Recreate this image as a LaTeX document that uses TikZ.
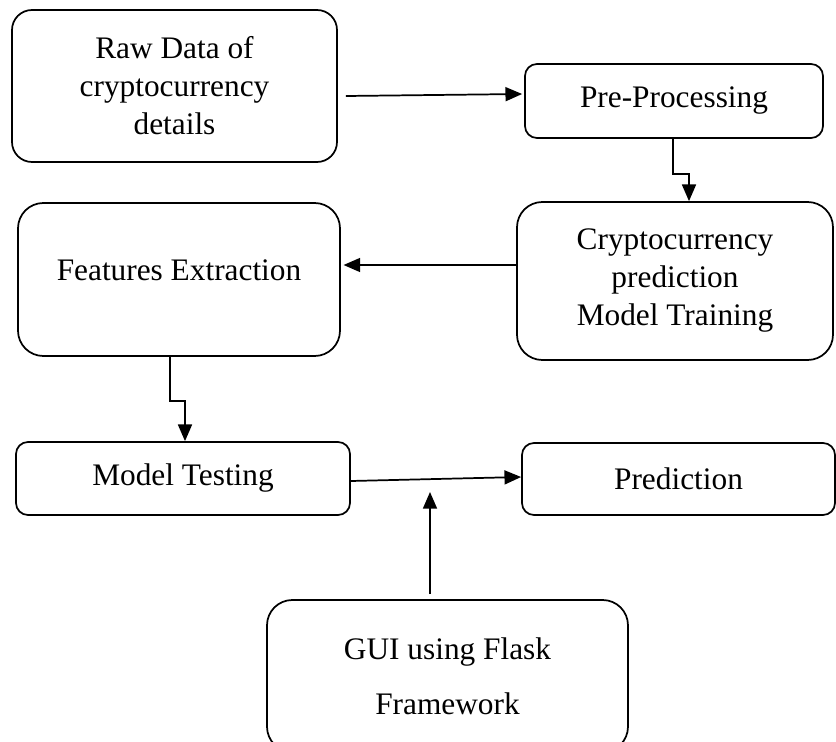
\documentclass[tikz,border=0pt]{standalone}
\usepackage{fontspec}
\setmainfont{Liberation Serif}
\usetikzlibrary{arrows.meta}
\tikzset{
    %Define standard arrow tip
    >={Triangle[length=12.5pt,width=10.5pt]},
    %Define style for boxes
    blokk/.style={
           rectangle,
           rounded corners=18pt,
           draw=black, line width=1.3pt,
           align=center,
           inner sep=0pt,
           font=\fontsize{23.5}{28.5}\selectfont},
    % Define arrow style
    pil/.style={
           ->,
           line width=1.3pt}
}
\begin{document}
\begin{tikzpicture}[x=0.75pt,y=-0.75pt]
\useasboundingbox (0,0) rectangle (836,742);
 %nodes
\node[blokk, minimum width=243.75pt, minimum height=114pt, rounded corners=15pt] (raw) at (174.5,86)
  {Raw Data of\\cryptocurrency\\details};
\node[blokk, minimum width=223.5pt, minimum height=55.5pt, rounded corners=9pt] (pre) at (674,101)
  {Pre-Processing};
\node[blokk, minimum width=237pt, minimum height=118.5pt, rounded corners=19pt] (train) at (675,281)
  {Cryptocurrency\\prediction\\Model Training};
\node[blokk, minimum width=241.5pt, minimum height=114.75pt, rounded corners=19pt, text depth=14pt] (feat) at (179,279.5)
  {Features Extraction};
\node[blokk, minimum width=250.5pt, minimum height=54.75pt, rounded corners=9pt] (test) at (183,478.5)
  {Model Testing};
\node[blokk, minimum width=234.75pt, minimum height=54pt, rounded corners=9pt] (pred) at (678.5,479)
  {Prediction};
\node[blokk, minimum width=270.75pt, minimum height=114pt, rounded corners=19pt,
      font=\fontsize{23.5}{41}\selectfont] (gui) at (447.5,676)
  {GUI using Flask\\Framework};
\coordinate (join) at (430,492);

 %arrows
\draw[pil] ([shift={(8,10)}]raw.east) -- ([shift={(-2,-7)}]pre.west);
\draw[pil] (pre.south) ++(-1,0) -- ++(0,35) -| ([shift={(14,0)}]train.north);
\coordinate (tf) at ([shift={(0,-16)}]train.west);
\draw[pil] (tf) -- ([xshift=2pt]tf -| feat.east);
\draw[pil] ([shift={(-9,0)}]feat.south) -- ++(0,44) -| ([shift={(2,0)}]test.north);
\draw[pil] ([shift={(0,2.5)}]test.east) -- ([shift={(0,-2)}]pred.west);
\draw[pil] ([shift={(-17.5,-5)}]gui.north) -- (join);

\end{tikzpicture}
\end{document}
